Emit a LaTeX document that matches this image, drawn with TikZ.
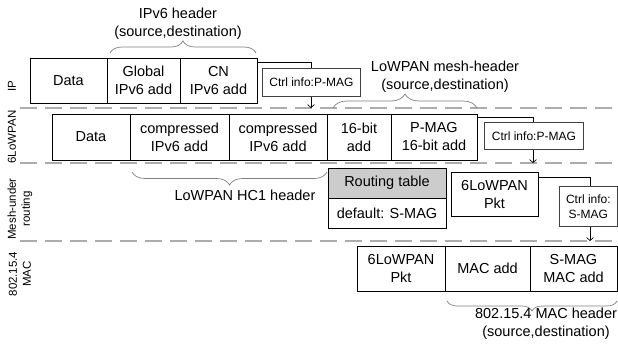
\documentclass[tikz,border=0pt]{standalone}
\usepackage{fontspec}
\setmainfont{Liberation Sans}
\usetikzlibrary{positioning,arrows.meta,decorations.pathreplacing}
\begin{document}
\begin{tikzpicture}[x=1pt,y=-1pt,
    pkt/.style={draw, line width=1pt, inner sep=0pt, outer sep=0pt, align=center,
      minimum height=45pt, font=\fontsize{14.5}{18}\selectfont},
    ctrl/.style={draw=darkgray, fill=white, line width=0.7pt, inner sep=0pt,
      align=center, anchor=north west, font=\fontsize{12}{15}\selectfont},
    hdr/.style={align=center, inner sep=0pt, font=\fontsize{14.5}{18}\selectfont},
    layer/.style={rotate=90, align=center, inner sep=0pt, font=\fontsize{11.5}{14}\selectfont},
    layerline/.style={draw=gray!65, line width=1.5pt, dash pattern=on 17pt off 8pt},
    hbrace/.style={draw=gray, line width=0.7pt, decorate, decoration={brace, amplitude=#1}},
    flow/.style={line width=0.7pt, -{Straight Barb[length=3pt,width=7pt]}}]
    \useasboundingbox (0,0) rectangle (618,343);

    % layer separators
    \draw[layerline] (20,108) -- (618,108);
    \draw[layerline] (20,163) -- (618,163);
    \draw[layerline] (20,241) -- (618,241);

    % layer names
    \node[layer] (lip) at (12,86) {IP};
    \node[layer] (llowpan) at (12,137) {6LoWPAN};
    \node[layer] (lmesh) at (20,209) {Mesh-under\\routing};
    \node[layer] (lmac) at (20,274) {802.15.4\\MAC};

    % IP packet
    \node[pkt, minimum width=77pt, anchor=north west] (ipdata) at (30,58) {Data};
    \node[pkt, minimum width=73pt, right=0pt of ipdata] (ipglob) {Global\\IPv6 add};
    \node[pkt, minimum width=77pt, right=0pt of ipglob] (ipcn) {CN\\IPv6 add};
    \draw[hbrace=12] ([xshift=3pt,yshift=5pt]ipglob.north west) -- ([xshift=-1pt,yshift=5pt]ipcn.north east);
    \node[hdr] (iphdr) at (178,24) {IPv6 header\\(source,destination)};

    % 6LoWPAN packet
    \node[pkt, minimum width=78pt, minimum height=46pt, anchor=north west] (lodata) at (52,114) {Data};
    \node[pkt, minimum width=99pt, minimum height=46pt, right=0pt of lodata] (locomp1) {compressed\\IPv6 add};
    \node[pkt, minimum width=98pt, minimum height=46pt, right=0pt of locomp1] (locomp2) {compressed\\IPv6 add};
    \node[pkt, minimum width=64pt, minimum height=46pt, right=0pt of locomp2] (lobit) {16-bit\\add};
    \node[pkt, minimum width=86pt, minimum height=46pt, right=0pt of lobit] (lopmag) {P-MAG\\16-bit add};
    \draw[hbrace=14] ([xshift=6pt,yshift=6pt]lobit.north west) -- ([yshift=6pt]lopmag.north east);
    \node[hdr] (meshhdr) at (445,77) {LoWPAN mesh-header\\(source,destination)};
    \draw[hbrace=13] ([yshift=-12pt]locomp2.south east) -- ([xshift=2pt,yshift=-12pt]locomp1.south west);
    \node[hdr] (hchdr) at (245,195) {LoWPAN HC1 header};

    % mesh-under routing
    \node[pkt, fill=gray!40, minimum width=118pt, minimum height=30pt, anchor=north west] (rtab) at (328,168) {Routing table};
    \node[pkt, minimum width=118pt, minimum height=30pt, below=0pt of rtab] (rdef) {default: S-MAG};
    \node[pkt, minimum width=87pt, minimum height=44pt, anchor=north west] (meshpkt) at (451,172) {6LoWPAN\\Pkt};

    % 802.15.4 MAC frame
    \node[pkt, minimum width=88pt, anchor=north west] (macpkt) at (357,246) {6LoWPAN\\Pkt};
    \node[pkt, minimum width=85pt, right=0pt of macpkt] (macadd) {MAC add};
    \node[pkt, minimum width=87pt, right=0pt of macadd] (macsmag) {S-MAG\\MAC add};
    \draw[hbrace=10] ([yshift=-10pt]macsmag.south east) -- ([xshift=2pt,yshift=-10pt]macadd.south west);
    \node[hdr] (machdr) at (546,324) {802.15.4 MAC header\\(source,destination)};

    % control info passed down
    \coordinate (ipdrop) at (311,108);
    \coordinate (lodrop) at (533,163);
    \coordinate (meshdrop) at (590,241);
    \draw[flow] ([yshift=-4pt]ipcn.north east) -| (ipdrop);
    \draw[flow] ([yshift=-3pt]lopmag.north east) -| (lodrop);
    \draw[flow] ([yshift=-5pt]meshpkt.north east) -| (meshdrop);
    \node[ctrl, minimum width=98pt, minimum height=28pt] (ipctrl) at (262,68) {Ctrl info:P-MAG};
    \node[ctrl, minimum width=99pt, minimum height=27pt] (loctrl) at (484,122) {Ctrl info:P-MAG};
    \node[ctrl, minimum width=58pt, minimum height=40pt] (meshctrl) at (559,186) {Ctrl info:\\S-MAG};
\end{tikzpicture}
\end{document}
